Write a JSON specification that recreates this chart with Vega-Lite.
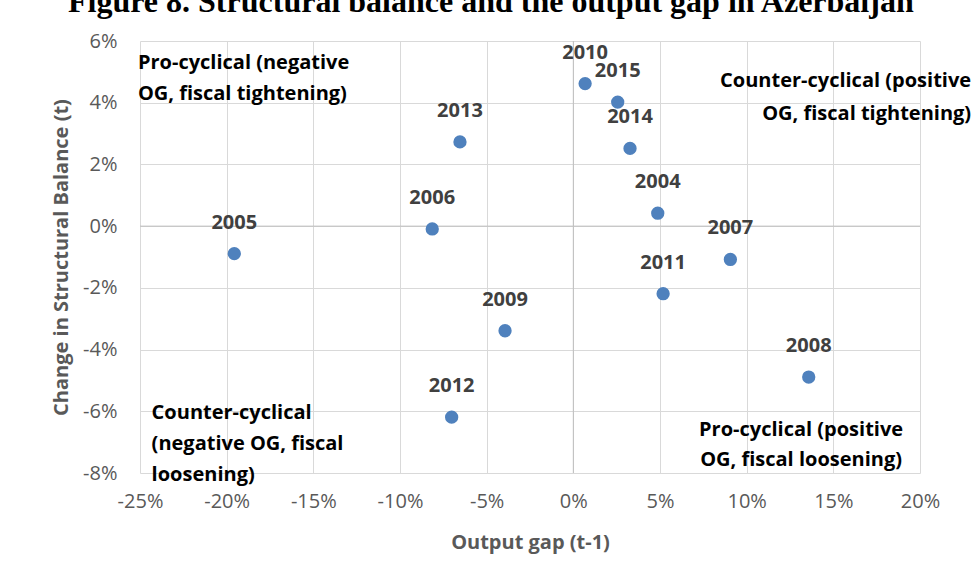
{
  "$schema": "https://vega.github.io/schema/vega-lite/v6.json",
  "width": 780,
  "height": 432,
  "autosize": {"type": "none"},
  "padding": {"left": 140, "top": 41, "right": 55, "bottom": 108},
  "background": "white",
  "title": {
    "text": "Figure 8. Structural balance and the output gap in Azerbaijan",
    "font": "Liberation Serif",
    "fontSize": 32,
    "fontWeight": "bold",
    "color": "black",
    "anchor": "start",
    "frame": "group",
    "dx": -72,
    "offset": 0,
    "dy": 13,
    "baseline": "alphabetic"
  },
  "datasets": {
    "points": [
      {"year": "2004", "og": 0.0487, "sb": 0.0042},
      {"year": "2005", "og": -0.1956, "sb": -0.0089},
      {"year": "2006", "og": -0.0814, "sb": -0.0009},
      {"year": "2007", "og": 0.0906, "sb": -0.0108},
      {"year": "2008", "og": 0.1358, "sb": -0.0489},
      {"year": "2009", "og": -0.0394, "sb": -0.0339},
      {"year": "2010", "og": 0.0068, "sb": 0.0462},
      {"year": "2011", "og": 0.0518, "sb": -0.0219},
      {"year": "2012", "og": -0.0702, "sb": -0.0619},
      {"year": "2013", "og": -0.0654, "sb": 0.0273},
      {"year": "2014", "og": 0.0327, "sb": 0.0252},
      {"year": "2015", "og": 0.0256, "sb": 0.0402}
    ],
    "zero": [{"z": 0}],
    "notesLeft": [
      {"nx": -0.2512, "ny": 0.0508, "note": "Pro-cyclical (negative\nOG, fiscal tightening)"},
      {"nx": -0.2433, "ny": -0.0624, "note": "Counter-cyclical\n(negative OG, fiscal\nloosening)"}
    ],
    "notesRight": [
      {"nx": 0.2295, "ny": 0.0451, "note": "Counter-cyclical (positive\nOG, fiscal tightening)"}
    ],
    "notesCenter": [
      {"nx": 0.1314, "ny": -0.0679, "note": "Pro-cyclical (positive\nOG, fiscal loosening)"}
    ]
  },
  "config": {
    "view": {"stroke": null},
    "font": "Open Sans",
    "text": {"lineBreak": "\n"},
    "axis": {
      "grid": true,
      "gridColor": "#d9d9d9",
      "gridWidth": 1,
      "domain": false,
      "ticks": false,
      "labelFont": "Open Sans",
      "labelFontSize": 20,
      "labelColor": "#595959",
      "titleFont": "Open Sans",
      "titleFontSize": 20,
      "titleFontWeight": "bold",
      "titleColor": "#595959"
    }
  },
  "layer": [
    {
      "data": {"name": "zero"},
      "mark": {"type": "rule", "color": "#bfbfbf", "strokeWidth": 1},
      "encoding": {
        "x": {"field": "z", "type": "quantitative", "scale": {"domain": [-0.25, 0.2], "nice": false, "zero": false}}
      }
    },
    {
      "data": {"name": "zero"},
      "mark": {"type": "rule", "color": "#bfbfbf", "strokeWidth": 1},
      "encoding": {
        "y": {"field": "z", "type": "quantitative", "scale": {"domain": [-0.08, 0.06], "nice": false, "zero": false}}
      }
    },
    {
      "data": {"name": "points"},
      "mark": {"type": "point", "filled": true, "opacity": 1, "color": "#4F81BD", "size": 177},
      "encoding": {
        "x": {
          "field": "og", "type": "quantitative",
          "scale": {"domain": [-0.25, 0.2], "nice": false, "zero": false},
          "axis": {"title": "Output gap (t-1)", "labelExpr": "(datum.value < 0 ? '-' : '') + format(abs(datum.value), '.0%')", "values": [-0.25, -0.2, -0.15, -0.1, -0.05, 0, 0.05, 0.1, 0.15, 0.2], "labelPadding": 18, "titlePadding": 21, "labelFlush": false, "labelOverlap": false}
        },
        "y": {
          "field": "sb", "type": "quantitative",
          "scale": {"domain": [-0.08, 0.06], "nice": false, "zero": false},
          "axis": {"title": "Change in Structural Balance (t)", "labelExpr": "(datum.value < 0 ? '-' : '') + format(abs(datum.value), '.0%')", "values": [-0.08, -0.06, -0.04, -0.02, 0, 0.02, 0.04, 0.06], "labelPadding": 23, "titlePadding": 11, "labelFlush": false, "labelOverlap": false}
        }
      }
    },
    {
      "data": {"name": "points"},
      "mark": {"type": "text", "font": "Open Sans", "fontSize": 20, "fontWeight": "bold", "color": "#404040", "baseline": "alphabetic", "align": "center", "dy": -25},
      "encoding": {
        "x": {"field": "og", "type": "quantitative"},
        "y": {"field": "sb", "type": "quantitative"},
        "text": {"field": "year", "type": "nominal"}
      }
    },
    {
      "data": {"name": "notesLeft"},
      "mark": {"type": "text", "font": "Open Sans", "fontSize": 20, "fontWeight": "bold", "color": "black", "baseline": "alphabetic", "align": "left", "lineHeight": 31},
      "encoding": {
        "x": {"field": "nx", "type": "quantitative"},
        "y": {"field": "ny", "type": "quantitative"},
        "text": {"field": "note", "type": "nominal"}
      }
    },
    {
      "data": {"name": "notesRight"},
      "mark": {"type": "text", "font": "Open Sans", "fontSize": 20, "fontWeight": "bold", "color": "black", "baseline": "alphabetic", "align": "right", "lineHeight": 33},
      "encoding": {
        "x": {"field": "nx", "type": "quantitative"},
        "y": {"field": "ny", "type": "quantitative"},
        "text": {"field": "note", "type": "nominal"}
      }
    },
    {
      "data": {"name": "notesCenter"},
      "mark": {"type": "text", "font": "Open Sans", "fontSize": 20, "fontWeight": "bold", "color": "black", "baseline": "alphabetic", "align": "center", "lineHeight": 30},
      "encoding": {
        "x": {"field": "nx", "type": "quantitative"},
        "y": {"field": "ny", "type": "quantitative"},
        "text": {"field": "note", "type": "nominal"}
      }
    }
  ]
}
